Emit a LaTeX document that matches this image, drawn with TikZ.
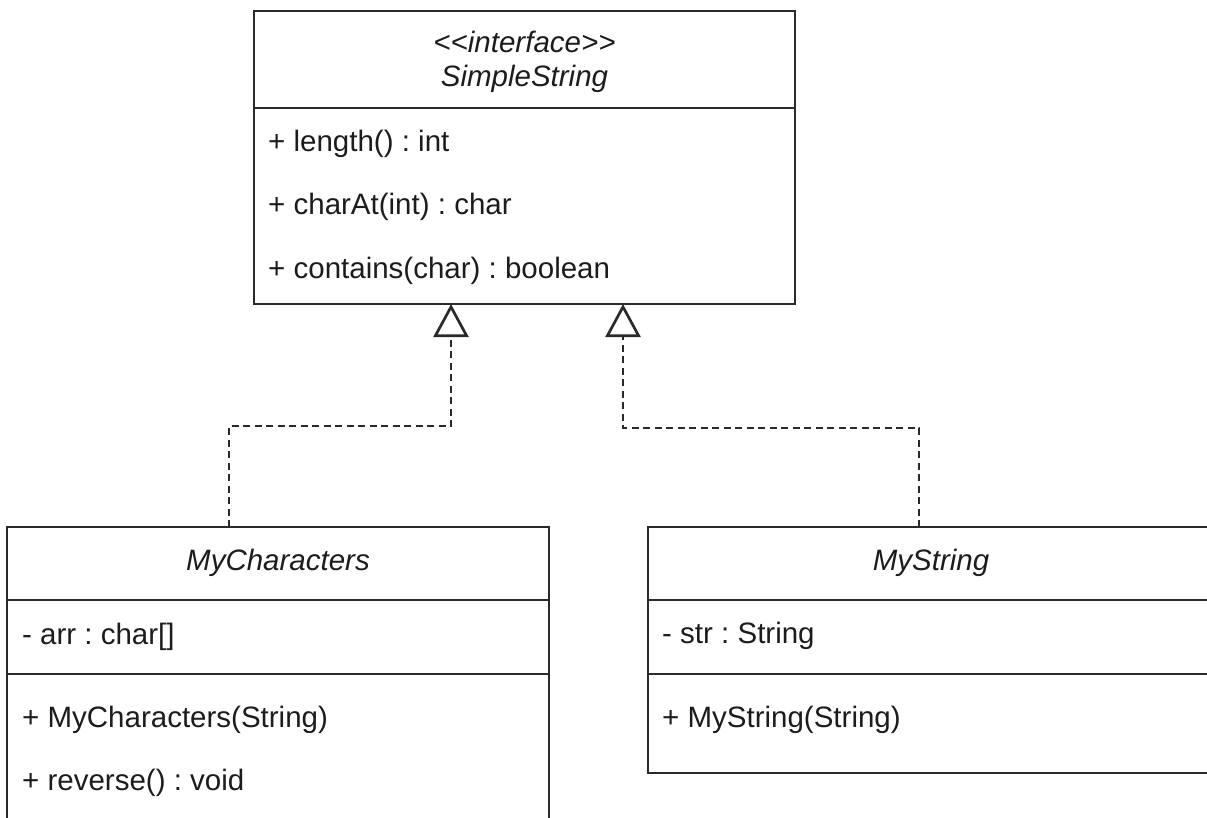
\documentclass[tikz,border=0pt]{standalone}
\usepackage{fontspec}
\setmainfont{Liberation Sans}
\usetikzlibrary{arrows.meta}
\definecolor{ink}{HTML}{2A2A2A}
\definecolor{txt}{HTML}{1C1C1C}
\frenchspacing
\tikzset{
  classbox/.style={draw=ink, line width=2.7pt, inner sep=0pt, outer sep=0pt, anchor=north west},
  title/.style={font=\fontsize{29.5}{35}\selectfont\itshape, text=txt, inner sep=0pt, anchor=base},
  member/.style={font=\fontsize{29.5}{35}\selectfont, text=txt, inner sep=0pt, anchor=base west},
  divider/.style={draw=ink, line width=2.7pt},
  realize/.style={draw=ink, line width=2.7pt, dash pattern=on 7pt off 4.5pt,
    -{Triangle[open, length=33pt, width=35pt, line join=miter]}},
}
\begin{document}
\begin{tikzpicture}[x=1pt,y=-1pt]
\useasboundingbox (0,0) rectangle (1207,818);
\clip (0,0) rectangle (1207,818);

% interface SimpleString
\node[classbox, minimum width=541pt, minimum height=293pt] (iface) at (254,11) {};
\draw[divider] (iface.west |- 0,108) -- (iface.east |- 0,108);
\node[title] (ifStereo) at (524.5,53) {<\kern0pt<interface>\kern0pt>};
\node[title] (ifName) at (524.5,87) {SimpleString};
\node[member] (ifM1) at (268,152) {+ length() : int};
\node[member] (ifM2) at (268,215) {+ charAt(int) : char};
\node[member] (ifM3) at (268,279) {+ contains(char) : boolean};

% class MyCharacters
\node[classbox, minimum width=542pt, minimum height=320pt] (mc) at (7,527) {};
\draw[divider] (mc.west |- 0,600) -- (mc.east |- 0,600);
\draw[divider] (mc.west |- 0,674) -- (mc.east |- 0,674);
\node[title] (mcName) at (278,570) {MyCharacters};
\node[member] (mcA1) at (22,644) {- arr : char[]};
\node[member] (mcM1) at (22,727) {+ MyCharacters(String)};
\node[member] (mcM2) at (22,790) {+ reverse() : void};

% class MyString
\node[classbox, minimum width=566pt, minimum height=246pt] (ms) at (648,527) {};
\draw[divider] (ms.west |- 0,600) -- (ms.east |- 0,600);
\draw[divider] (ms.west |- 0,674) -- (ms.east |- 0,674);
\node[title] (msName) at (931,570) {MyString};
\node[member] (msA1) at (662,643) {- str : String};
\node[member] (msM1) at (662,727) {+ MyString(String)};

% realization connectors
\path (mc.north west) ++(222,0) coordinate (mcJoin);
\path (ms.north west) ++(271,0) coordinate (msJoin);
\path (iface.south west) ++(197,0) coordinate (ifL);
\path (iface.south west) ++(369,0) coordinate (ifR);
\draw[realize] (mcJoin) |- (ifL |- 0,426) -- (ifL);
\draw[realize] (msJoin) |- (ifR |- 0,428) -- (ifR);
\end{tikzpicture}
\end{document}
